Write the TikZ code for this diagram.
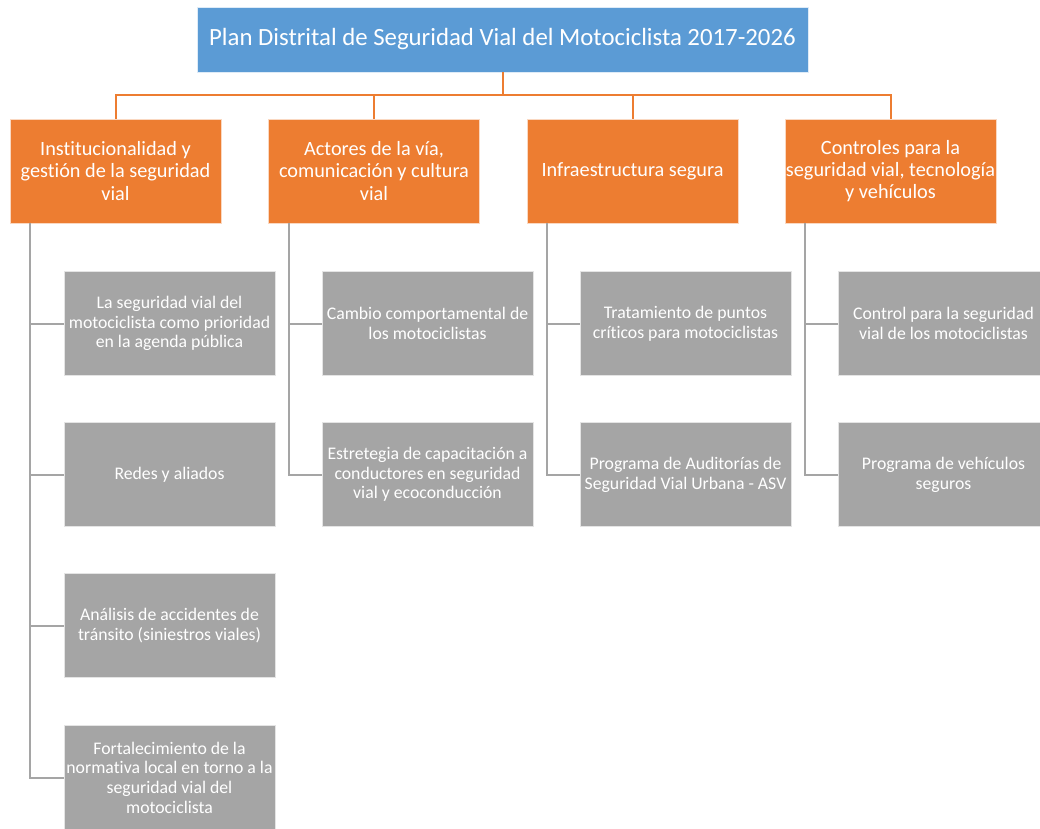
\documentclass[tikz,border=0pt]{standalone}
\usepackage{fontspec}
\setmainfont{Carlito}[RawFeature={-liga}]
\usetikzlibrary{calc}
\definecolor{topblue}{HTML}{5B9BD5}
\definecolor{orng}{HTML}{ED7D31}
\definecolor{gry}{HTML}{A5A5A5}
\tikzset{
  titlebox/.style={fill=topblue, draw=white!80!topblue, line width=0.5pt, text=white, minimum width=611*0.75pt, minimum height=65*0.75pt, inner sep=0pt, font=\fontsize{18.6}{21}\selectfont},
  catbox/.style={fill=orng, draw=white!70!orng, line width=0.5pt, text=white, minimum width=211*0.75pt, minimum height=104*0.75pt, inner sep=0pt, align=center, font=\fontsize{15.2}{16.8}\selectfont},
  itembox/.style={fill=gry, draw=white!70!gry, line width=0.5pt, text=white, minimum width=211*0.75pt, minimum height=104*0.75pt, inner sep=0pt, align=center, font=\fontsize{13.3}{14.8}\selectfont},
  orline/.style={draw=orng, line width=1.5pt},
  grline/.style={draw=gry, line width=1.5pt},
}
\begin{document}
\begin{tikzpicture}[x=0.75pt, y=-0.75pt]
\useasboundingbox (0,0) rectangle (1040,829);
\clip (0,0) rectangle (1040,829);
\node[titlebox] (title) at (502.5,39.5) {Plan Distrital de Seguridad Vial del Motociclista 2017-2026};
\node[catbox] (c1) at (115.5,171) {Institucionalidad y\\gestión de la seguridad\\vial};
\node[catbox] (c2) at (374,171) {Actores de la vía,\\comunicación y cultura\\vial};
\node[catbox] (c3) at (632.5,171) {Infraestructura segura};
\node[catbox] (c4) at (890.5,171) {Controles para la\\seguridad vial, tecnología\\y vehículos};
\coordinate (bus) at (0,95);
\foreach \c in {c1,c2,c3,c4}{
  \draw[orline] (title.south) -- (title.south |- bus) -| (\c.north);
}
% column 1
\node[itembox] (i11) at (169.5,323.5) {La seguridad vial del\\motociclista como prioridad\\en la agenda pública};
\node[itembox] (i12) at (169.5,474.5) {Redes y aliados};
\node[itembox] (i13) at (169.5,625.5) {Análisis de accidentes de\\tránsito (siniestros viales)};
\node[itembox] (i14) at (169.5,777.5) {Fortalecimiento de la\\normativa local en torno a la\\seguridad vial del\\motociclista};
% column 2
\node[itembox] (i21) at (427.5,323.5) {Cambio comportamental de\\los motociclistas};
\node[itembox] (i22) at (427.5,474.5) {Estretegia de capacitación a\\conductores en seguridad\\vial y ecoconducción};
% column 3
\node[itembox] (i31) at (685.5,323.5) {Tratamiento de puntos\\críticos para motociclistas};
\node[itembox] (i32) at (685.5,474.5) {Programa de Auditorías de\\Seguridad Vial Urbana - ASV};
% column 4
\node[itembox] (i41) at (943.5,323.5) {Control para la seguridad\\vial de los motociclistas};
\node[itembox] (i42) at (943.5,474.5) {Programa de vehículos\\seguros};
% gray connectors
\foreach \c/\i in {c1/i11,c1/i12,c1/i13,c1/i14,c2/i21,c2/i22,c3/i31,c3/i32,c4/i41,c4/i42}{
  \draw[grline] ($(\c.south west)+(20.5,0)$) |- (\i.west);
}
\end{tikzpicture}
\end{document}
